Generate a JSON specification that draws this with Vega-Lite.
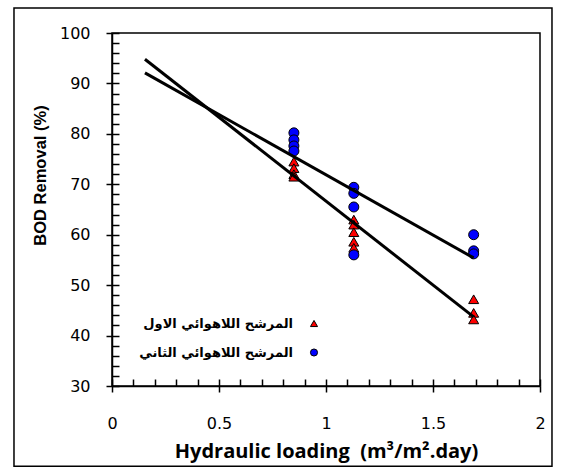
{
  "$schema": "https://vega.github.io/schema/vega-lite/v6.json",
  "width": 428,
  "height": 353,
  "autosize": "none",
  "padding": {"left": 112, "top": 33, "right": 21, "bottom": 89},
  "background": "white",
  "config": {
    "view": {"stroke": "black", "strokeWidth": 1.5},
    "axis": {"grid": false, "domainColor": "black", "domainWidth": 1.5, "tickColor": "black", "tickWidth": 1.5, "labelColor": "black", "titleColor": "black"}
  },
  "datasets": {
    "points": [
      {"load": 0.85, "bod": 74.5, "series": "المرشح اللاهوائي الاول"},
      {"load": 0.85, "bod": 73.2, "series": "المرشح اللاهوائي الاول"},
      {"load": 0.85, "bod": 72.0, "series": "المرشح اللاهوائي الاول"},
      {"load": 0.85, "bod": 71.5, "series": "المرشح اللاهوائي الاول"},
      {"load": 1.13, "bod": 63.0, "series": "المرشح اللاهوائي الاول"},
      {"load": 1.13, "bod": 62.0, "series": "المرشح اللاهوائي الاول"},
      {"load": 1.13, "bod": 60.5, "series": "المرشح اللاهوائي الاول"},
      {"load": 1.13, "bod": 58.6, "series": "المرشح اللاهوائي الاول"},
      {"load": 1.13, "bod": 57.4, "series": "المرشح اللاهوائي الاول"},
      {"load": 1.69, "bod": 47.2, "series": "المرشح اللاهوائي الاول"},
      {"load": 1.69, "bod": 44.5, "series": "المرشح اللاهوائي الاول"},
      {"load": 1.69, "bod": 43.2, "series": "المرشح اللاهوائي الاول"},
      {"load": 0.85, "bod": 80.2, "series": "المرشح اللاهوائي الثاني"},
      {"load": 0.85, "bod": 78.8, "series": "المرشح اللاهوائي الثاني"},
      {"load": 0.85, "bod": 77.6, "series": "المرشح اللاهوائي الثاني"},
      {"load": 0.85, "bod": 76.6, "series": "المرشح اللاهوائي الثاني"},
      {"load": 1.13, "bod": 69.4, "series": "المرشح اللاهوائي الثاني"},
      {"load": 1.13, "bod": 68.2, "series": "المرشح اللاهوائي الثاني"},
      {"load": 1.13, "bod": 65.5, "series": "المرشح اللاهوائي الثاني"},
      {"load": 1.13, "bod": 56.0, "series": "المرشح اللاهوائي الثاني"},
      {"load": 1.69, "bod": 60.0, "series": "المرشح اللاهوائي الثاني"},
      {"load": 1.69, "bod": 56.8, "series": "المرشح اللاهوائي الثاني"},
      {"load": 1.69, "bod": 56.2, "series": "المرشح اللاهوائي الثاني"}
    ],
    "trend": [
      {"load": 0.154, "bod": 94.8, "series": "المرشح اللاهوائي الاول"},
      {"load": 1.69, "bod": 43.7, "series": "المرشح اللاهوائي الاول"},
      {"load": 0.154, "bod": 92.1, "series": "المرشح اللاهوائي الثاني"},
      {"load": 1.69, "bod": 55.4, "series": "المرشح اللاهوائي الثاني"}
    ]
  },
  "layer": [
    {
      "data": {"values": [{}]},
      "mark": {"type": "rect", "fill": null, "fillOpacity": 0, "stroke": "black", "strokeWidth": 1.5, "clip": false},
      "encoding": {
        "x": {"datum": -0.458, "type": "quantitative", "scale": {"domain": [0, 2], "nice": false, "zero": false}, "axis": null},
        "x2": {"datum": 2.056},
        "y": {"datum": 14.1, "type": "quantitative", "scale": {"domain": [30, 100], "nice": false, "zero": false}, "axis": null},
        "y2": {"datum": 104.96}
      }
    },
    {
      "data": {"name": "points"},
      "mark": {"type": "point", "filled": true, "stroke": "black", "strokeWidth": 1, "opacity": 1, "size": 100},
      "encoding": {
        "x": {"field": "load", "type": "quantitative", "scale": {"domain": [0, 2], "nice": false, "zero": false},
          "axis": {"orient": "bottom", "values": [0, 0.5, 1, 1.5, 2], "tickSize": 6, "tickColor": "black", "tickWidth": 1.5, "domainColor": "black", "domainWidth": 1.5, "labelColor": "black", "labelPadding": 23, "labelFont": "DejaVu Sans", "labelFontSize": 16, "labelFlush": false, "labelExpr": "datum.value == 0 ? '0' : format(datum.value, '~g')",
            "title": "Hydraulic loading \u00a0(m³/m².day)", "titleColor": "black", "titleFont": "Open Sans", "titleFontSize": 20, "titleFontWeight": "bold", "titleBaseline": "alphabetic", "titleY": 71}},
        "y": {"field": "bod", "type": "quantitative", "scale": {"domain": [30, 100], "nice": false, "zero": false},
          "axis": {"orient": "left", "values": [30, 40, 50, 60, 70, 80, 90, 100], "tickSize": 6, "tickColor": "black", "tickWidth": 1.5, "domainColor": "black", "domainWidth": 1.5, "labelColor": "black", "labelPadding": 16, "labelFont": "DejaVu Sans", "labelFontSize": 16,
            "title": "BOD Removal (%)", "titleColor": "black", "titleFont": "Liberation Sans", "titleFontSize": 16.5, "titleFontWeight": "bold", "titleX": -72, "titleY": 142, "titleAlign": "center", "titleBaseline": "middle", "titleAngle": -90}},
        "color": {"field": "series", "type": "nominal", "scale": {"domain": ["المرشح اللاهوائي الاول", "المرشح اللاهوائي الثاني"], "range": ["#FF0000", "#0000FF"]},
          "legend": {"orient": "none", "legendX": 195.5, "legendY": 284, "title": null, "padding": 0, "rowPadding": 15, "symbolSize": 50, "symbolStrokeColor": "black", "symbolStrokeWidth": 1, "labelAlign": "right", "labelOffset": -27.5, "labelFont": "DejaVu Sans", "labelFontSize": 13, "labelFontWeight": "bold", "labelColor": "black", "labelLimit": 300}},
        "shape": {"field": "series", "type": "nominal", "scale": {"domain": ["المرشح اللاهوائي الاول", "المرشح اللاهوائي الثاني"], "range": ["triangle-up", "circle"]}}
      }
    },
    {
      "data": {"name": "trend"},
      "mark": {"type": "line", "color": "black", "strokeWidth": 3},
      "encoding": {
        "x": {"field": "load", "type": "quantitative", "scale": {"domain": [0, 2], "nice": false, "zero": false},
          "axis": {"orient": "top", "offset": -353, "tickCount": 20, "tickSize": 7, "tickColor": "black", "tickWidth": 1.5, "labels": false, "domain": false, "title": null}},
        "y": {"field": "bod", "type": "quantitative", "scale": {"domain": [30, 100], "nice": false, "zero": false},
          "axis": {"orient": "right", "offset": -428, "tickCount": 35, "tickSize": 7, "tickColor": "black", "tickWidth": 1.5, "labels": false, "domain": false, "title": null}},
        "detail": {"field": "series", "type": "nominal"}
      }
    }
  ],
  "resolve": {"axis": {"x": "independent", "y": "independent"}}
}
